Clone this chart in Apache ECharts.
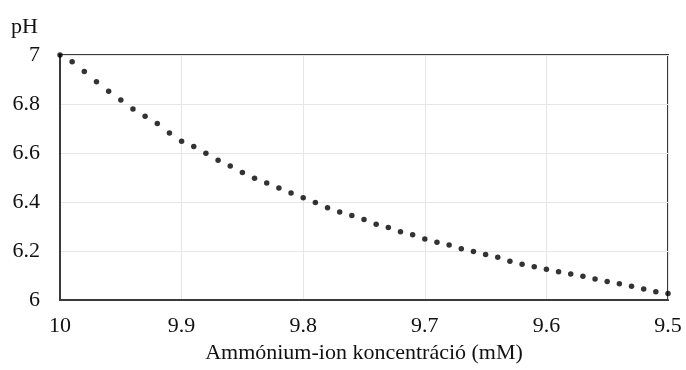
<!DOCTYPE html>
<html>
<head>
<meta charset="utf-8">
<script src="https://cdn.jsdelivr.net/npm/echarts@6/dist/echarts.min.js"></script>
<style>html,body{margin:0;padding:0;background:#fff}#c{width:686px;height:370px}</style>
</head>
<body>
<div id="c"></div>
<script>
// Ammonium-ion concentration (mM), 10 down to 9.5 in steps of 0.01
const concentration = [
  10.00, 9.99, 9.98, 9.97, 9.96, 9.95, 9.94, 9.93, 9.92, 9.91,
  9.90, 9.89, 9.88, 9.87, 9.86, 9.85, 9.84, 9.83, 9.82, 9.81,
  9.80, 9.79, 9.78, 9.77, 9.76, 9.75, 9.74, 9.73, 9.72, 9.71,
  9.70, 9.69, 9.68, 9.67, 9.66, 9.65, 9.64, 9.63, 9.62, 9.61,
  9.60, 9.59, 9.58, 9.57, 9.56, 9.55, 9.54, 9.53, 9.52, 9.51, 9.50
];
const pH = [
  7.000, 6.972, 6.933, 6.891, 6.852, 6.816, 6.780, 6.750, 6.720, 6.682,
  6.648, 6.627, 6.599, 6.570, 6.547, 6.520, 6.497, 6.478, 6.457, 6.437,
  6.417, 6.398, 6.377, 6.359, 6.345, 6.329, 6.309, 6.296, 6.279, 6.266,
  6.249, 6.236, 6.225, 6.209, 6.198, 6.186, 6.175, 6.158, 6.146, 6.136,
  6.126, 6.115, 6.106, 6.097, 6.086, 6.076, 6.066, 6.056, 6.045, 6.034, 6.027
];
const xTitle = 'Ammónium-ion koncentráció (mM)';
const yTitle = 'pH';

const font = '"Liberation Serif", "Times New Roman", serif';
const chart = echarts.init(document.getElementById('c'), null, {renderer: 'canvas'});
chart.setOption({
  animation: false,
  backgroundColor: '#fff',
  grid: {left: 60, right: 18, top: 55, bottom: 70, show: true, borderColor: '#3a3a3a', borderWidth: 2},
  xAxis: {
    type: 'value', inverse: true, min: 9.5, max: 10, interval: 0.1,
    name: xTitle, nameLocation: 'middle', nameGap: 41,
    nameTextStyle: {fontFamily: font, fontSize: 22, color: '#111'},
    axisLine: {show: true, lineStyle: {color: '#3a3a3a', width: 2}},
    axisTick: {show: false},
    axisLabel: {margin: 15, fontFamily: font, fontSize: 22, color: '#111',
      formatter: v => String(Number(v.toFixed(1)))},
    splitLine: {show: true, lineStyle: {color: '#e6e6e6', width: 1}}
  },
  yAxis: {
    type: 'value', min: 6, max: 7, interval: 0.2,
    name: yTitle, nameLocation: 'end', nameGap: 17,
    nameTextStyle: {fontFamily: font, fontSize: 22, color: '#111', align: 'right', padding: [0, 22, 0, 0]},
    axisLine: {show: true, lineStyle: {color: '#3a3a3a', width: 2}},
    axisTick: {show: false},
    axisLabel: {margin: 20, fontFamily: font, fontSize: 22, color: '#111',
      formatter: v => String(Number(v.toFixed(1)))},
    splitLine: {show: true, lineStyle: {color: '#e6e6e6', width: 1}}
  },
  series: [{
    type: 'scatter',
    data: concentration.map((c, i) => [c, pH[i]]),
    symbol: 'circle', symbolSize: 5.5,
    itemStyle: {color: '#000'},
    clip: false
  }]
});
</script>
</body>
</html>
